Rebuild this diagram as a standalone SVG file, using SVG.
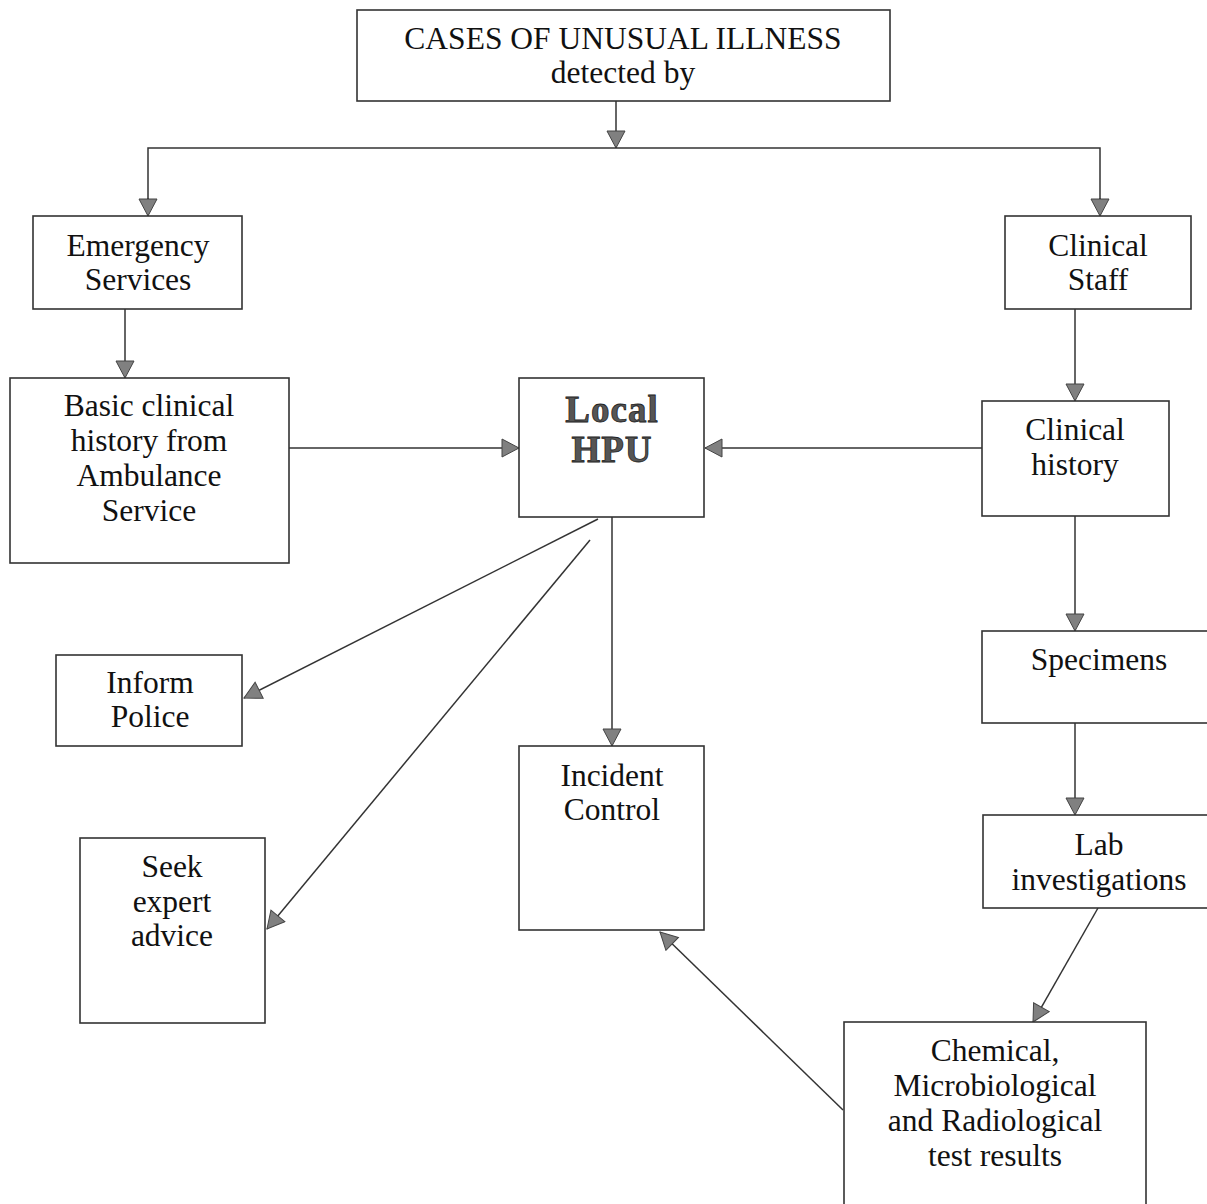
<svg xmlns="http://www.w3.org/2000/svg" width="1207" height="1204" viewBox="0 0 1207 1204">
<defs>
<marker id="arr" markerWidth="20" markerHeight="20" refX="18" refY="10" orient="auto" markerUnits="userSpaceOnUse">
<path d="M1,1 L18,10 L1,19 Z" fill="#808080" stroke="#444" stroke-width="1"/>
</marker>
<style>
.box{fill:#fff;stroke:#333;stroke-width:1.6}
.t{font-family:"Liberation Serif","DejaVu Serif",serif;font-size:31.5px;fill:#111;text-anchor:middle}
.b{font-family:"Liberation Serif","DejaVu Serif",serif;font-size:37px;font-weight:bold;letter-spacing:1px;fill:#555;stroke:#222;stroke-width:0.8;text-anchor:middle}
.c{fill:none;stroke:#333;stroke-width:1.5}
</style>
</defs>
<rect width="1207" height="1204" fill="#fff"/>
<g id="connectors">
<line class="c" x1="616" y1="101" x2="616" y2="148" marker-end="url(#arr)"/>
<polyline class="c" points="148,216 148,148 1100,148 1100,216"/>
<line class="c" x1="148" y1="198" x2="148" y2="216" marker-end="url(#arr)"/>
<line class="c" x1="1100" y1="198" x2="1100" y2="216" marker-end="url(#arr)"/>
<line class="c" x1="125" y1="309" x2="125" y2="378" marker-end="url(#arr)"/>
<line class="c" x1="289" y1="448" x2="519" y2="448" marker-end="url(#arr)"/>
<line class="c" x1="982" y1="448" x2="705" y2="448" marker-end="url(#arr)"/>
<line class="c" x1="1075" y1="309" x2="1075" y2="401" marker-end="url(#arr)"/>
<line class="c" x1="1075" y1="516" x2="1075" y2="631" marker-end="url(#arr)"/>
<line class="c" x1="1075" y1="723" x2="1075" y2="815" marker-end="url(#arr)"/>
<line class="c" x1="1098" y1="908" x2="1033" y2="1022" marker-end="url(#arr)"/>
<line class="c" x1="843" y1="1110" x2="660" y2="932" marker-end="url(#arr)"/>
<line class="c" x1="612" y1="517" x2="612" y2="746" marker-end="url(#arr)"/>
<line class="c" x1="598" y1="519" x2="244" y2="698" marker-end="url(#arr)"/>
<line class="c" x1="590" y1="540" x2="267" y2="929" marker-end="url(#arr)"/>
</g>
<g id="top">
<rect class="box" x="357" y="10" width="533" height="91"/>
<text class="t" x="623" y="49">CASES OF UNUSUAL ILLNESS</text>
<text class="t" x="623" y="83">detected by</text>
</g>
<g id="emergency">
<rect class="box" x="33" y="216" width="209" height="93"/>
<text class="t" x="138" y="256">Emergency</text>
<text class="t" x="138" y="290">Services</text>
</g>
<g id="basic">
<rect class="box" x="10" y="378" width="279" height="185"/>
<text class="t" x="149" y="416">Basic clinical</text>
<text class="t" x="149" y="451">history from</text>
<text class="t" x="149" y="486">Ambulance</text>
<text class="t" x="149" y="521">Service</text>
</g>
<g id="hpu">
<rect class="box" x="519" y="378" width="185" height="139"/>
<text class="b" x="612" y="422">Local</text>
<text class="b" x="612" y="462">HPU</text>
</g>
<g id="staff">
<rect class="box" x="1005" y="216" width="186" height="93"/>
<text class="t" x="1098" y="256">Clinical</text>
<text class="t" x="1098" y="290">Staff</text>
</g>
<g id="history">
<rect class="box" x="982" y="401" width="187" height="115"/>
<text class="t" x="1075" y="440">Clinical</text>
<text class="t" x="1075" y="475">history</text>
</g>
<g id="specimens">
<rect class="box" x="982" y="631" width="240" height="92"/>
<text class="t" x="1099" y="670">Specimens</text>
</g>
<g id="lab">
<rect class="box" x="983" y="815" width="240" height="93"/>
<text class="t" x="1099" y="855">Lab</text>
<text class="t" x="1099" y="890">investigations</text>
</g>
<g id="results">
<rect class="box" x="844" y="1022" width="302" height="200"/>
<text class="t" x="995" y="1061">Chemical,</text>
<text class="t" x="995" y="1096">Microbiological</text>
<text class="t" x="995" y="1131">and Radiological</text>
<text class="t" x="995" y="1166">test results</text>
</g>
<g id="incident">
<rect class="box" x="519" y="746" width="185" height="184"/>
<text class="t" x="612" y="786">Incident</text>
<text class="t" x="612" y="820">Control</text>
</g>
<g id="police">
<rect class="box" x="56" y="655" width="186" height="91"/>
<text class="t" x="150" y="693">Inform</text>
<text class="t" x="150" y="727">Police</text>
</g>
<g id="expert">
<rect class="box" x="80" y="838" width="185" height="185"/>
<text class="t" x="172" y="877">Seek</text>
<text class="t" x="172" y="912">expert</text>
<text class="t" x="172" y="946">advice</text>
</g>
</svg>
